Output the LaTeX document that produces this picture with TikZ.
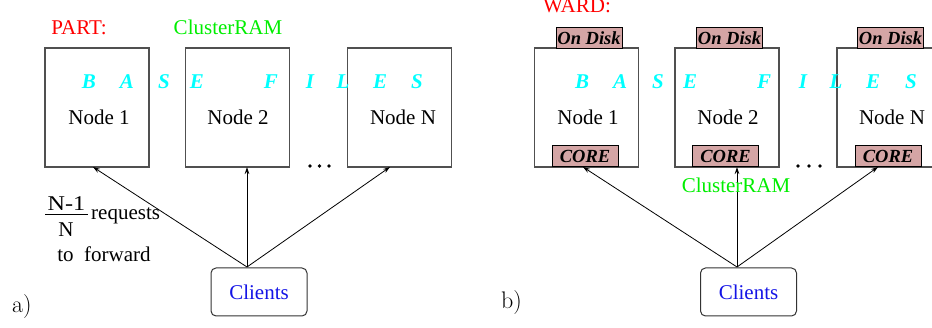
\documentclass[tikz,border=0pt]{standalone}
\usepackage{fontspec}
\newfontfamily\tms{Liberation Serif}
\usetikzlibrary{arrows.meta}
\definecolor{diskpink}{HTML}{D4A5A5}
\definecolor{cyanl}{HTML}{00FFFF}
\definecolor{greenl}{HTML}{00EE00}
\definecolor{clientblue}{HTML}{1414E6}
\definecolor{boxgray}{HTML}{505050}
\begin{document}
\begin{tikzpicture}[x=1pt,y=-1pt,
  txt/.style={font=\tms\fontsize{21}{24}\selectfont, inner sep=0pt, anchor=base},
  letter/.style={txt, text=cyanl, font=\tms\bfseries\itshape\fontsize{21}{24}\selectfont},
  nodebox/.style={draw=boxgray, line width=1.2pt, minimum width=104pt, minimum height=119pt, inner sep=0pt},
  smallbox/.style={draw=black, line width=1pt, fill=diskpink, font=\tms\bfseries\itshape\fontsize{18.5}{20}\selectfont, inner sep=0pt, minimum width=66pt, minimum height=21pt},
  clientbox/.style={draw=black!80, line width=1pt, rounded corners=5pt, minimum width=96pt, minimum height=48pt, inner sep=0pt, text=clientblue, font=\tms\fontsize{21}{24}\selectfont},
  arr/.style={-{Stealth[length=7pt,width=4.5pt]}, line width=0.8pt},
  dotc/.style={circle, fill=black, inner sep=0pt, minimum size=3.8pt},
  lab/.style={inner sep=0pt, anchor=base west, font=\fontsize{24}{28}\selectfont}
]
\path[use as bounding box] (0,0) rectangle (932,328);
\clip (0,0) rectangle (932,328);

% ---------------- panel a ----------------
\node[txt, text=red] (parta) at (79,35) {PART:};
\node[txt, text=greenl] (crama) at (228,35) {ClusterRAM};

\node[nodebox] (a1) at (97,107.5) {};
\node[nodebox] (a2) at (237.5,107.5) {};
\node[nodebox] (aN) at (399.5,107.5) {};

\node[txt] (a1t) at (99,125) {Node 1};
\node[txt] (a2t) at (238,125) {Node 2};
\node[txt] (aNt) at (403,125) {Node N};

\node[letter] (la1) at (89,89) {B};
\node[letter] (la2) at (127,89) {A};
\node[letter] (la3) at (164,89) {S};
\node[letter] (la4) at (197,89) {E};
\node[letter] (la5) at (271,89) {F};
\node[letter] (la6) at (310,89) {I};
\node[letter] (la7) at (343,89) {L};
\node[letter] (la8) at (380,89) {E};
\node[letter] (la9) at (417,89) {S};

\node[dotc] (ad1) at (310,166) {};
\node[dotc] (ad2) at (319.5,166) {};
\node[dotc] (ad3) at (329,166) {};

\node[clientbox] (ca) at (259,292) {Clients};
\coordinate (ca0) at (247,267);
\coordinate (a1in) at (93,167);
\coordinate (a2in) at (247,167);
\coordinate (aNin) at (390,167);
\draw[arr] (ca0) -- (a1in);
\draw[arr] (ca0) -- (a2in);
\draw[arr] (ca0) -- (aNin);

\node[txt, xscale=1.15] (fnum) at (66.5,211) {N-1};
\node[txt] (fden) at (66,237) {N};
\draw[line width=0.9pt] (45,214) -- (88,214);
\node[txt, anchor=base west] (req) at (91,220) {requests};
\node[txt] (fwd) at (104,262) {to\ \ forward};

\node[lab] (laba) at (12,313) {a)};

% ---------------- panel b ----------------
\node[txt, text=red, anchor=base west] (wardb) at (543,13) {WARD:};

\node[nodebox] (b1) at (586.5,107.5) {};
\node[nodebox] (b2) at (727,107.5) {};
\node[nodebox] (bN) at (889,107.5) {};

\node[smallbox] (d1) at (589,38) {On Disk};
\node[smallbox] (d2) at (729.5,38) {On Disk};
\node[smallbox] (dN) at (890.5,38) {On Disk};

\node[smallbox] (c1) at (585,156.5) {CORE};
\node[smallbox] (c2) at (725.5,156.5) {CORE};
\node[smallbox] (cN) at (888,156.5) {CORE};

\node[txt] (b1t) at (588,125) {Node 1};
\node[txt] (b2t) at (728,125) {Node 2};
\node[txt] (bNt) at (892,125) {Node N};

\node[letter] (lb1) at (582,89) {B};
\node[letter] (lb2) at (620,89) {A};
\node[letter] (lb3) at (658,89) {S};
\node[letter] (lb4) at (690,89) {E};
\node[letter] (lb5) at (764,89) {F};
\node[letter] (lb6) at (803,89) {I};
\node[letter] (lb7) at (836,89) {L};
\node[letter] (lb8) at (873,89) {E};
\node[letter] (lb9) at (911,89) {S};

\node[dotc] (bd1) at (798,166) {};
\node[dotc] (bd2) at (809,166) {};
\node[dotc] (bd3) at (820,166) {};

\node[clientbox] (cb) at (748.5,292) {Clients};
\coordinate (cb0) at (737,267);
\coordinate (b1in) at (583,167);
\coordinate (b2in) at (737,167);
\coordinate (bNin) at (878,167);
\draw[arr] (cb0) -- (b1in);
\draw[arr] (cb0) -- (b2in);
\draw[arr] (cb0) -- (bNin);

\node[txt, text=greenl] (cramb) at (736,193) {ClusterRAM};

\node[lab] (labb) at (501,309) {b)};
\end{tikzpicture}
\end{document}
